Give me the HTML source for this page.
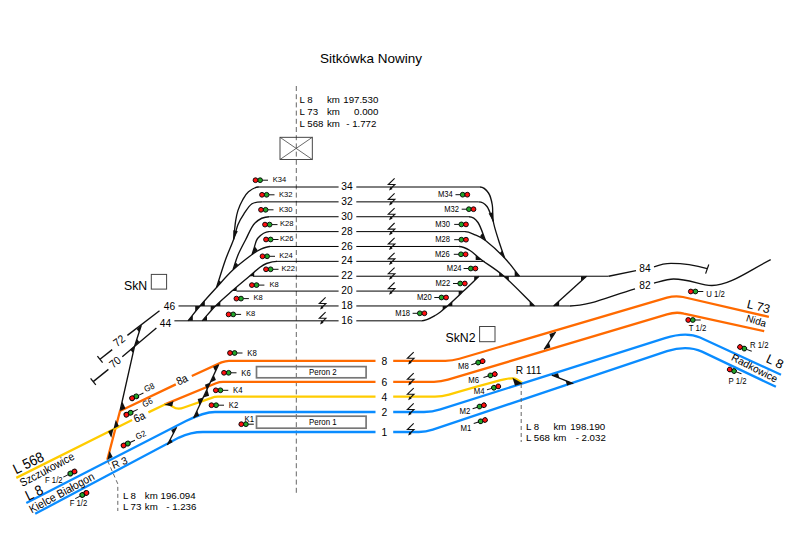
<!DOCTYPE html>
<html><head><meta charset="utf-8"><style>
html,body{margin:0;padding:0;background:#fff;}
svg{display:block;font-family:"Liberation Sans", sans-serif;}
text{fill:#000;}
</style></head><body>
<svg width="787" height="553" viewBox="0 0 787 553">
<rect width="787" height="553" fill="#fff"/>
<text x="0" y="0" font-size="13.5" text-anchor="start" transform="translate(320.0 62.8) scale(1 1.0)" >Sitkówka Nowiny</text>
<line x1="296.3" y1="86" x2="296.3" y2="493" stroke="#666" stroke-width="1" stroke-dasharray="5 3.2"/>
<text x="0" y="0" font-size="9.7" text-anchor="start" transform="translate(299.6 103.1) scale(1 1.0)" >L 8</text>
<text x="0" y="0" font-size="9.7" text-anchor="start" transform="translate(327 103.1) scale(1 1.0)" >km</text>
<text x="0" y="0" font-size="9.7" text-anchor="end" transform="translate(378.3 103.1) scale(1 1.0)" >197.530</text>
<text x="0" y="0" font-size="9.7" text-anchor="start" transform="translate(299.6 114.8) scale(1 1.0)" >L 73</text>
<text x="0" y="0" font-size="9.7" text-anchor="start" transform="translate(327 114.8) scale(1 1.0)" >km</text>
<text x="0" y="0" font-size="9.7" text-anchor="end" transform="translate(378.3 114.8) scale(1 1.0)" >0.000</text>
<text x="0" y="0" font-size="9.7" text-anchor="start" transform="translate(299.6 126.7) scale(1 1.0)" >L 568</text>
<text x="0" y="0" font-size="9.7" text-anchor="start" transform="translate(327 126.7) scale(1 1.0)" >km</text>
<text x="0" y="0" font-size="9.7" text-anchor="end" transform="translate(376.4 126.7) scale(1 1.0)" >- 1.772</text>
<rect x="280" y="137.3" width="32.3" height="22.2" fill="none" stroke="#333" stroke-width="0.9"/>
<line x1="280" y1="137.3" x2="312.3" y2="159.5" stroke="#444" stroke-width="0.8" />
<line x1="280" y1="159.5" x2="312.3" y2="137.3" stroke="#444" stroke-width="0.8" />
<line x1="257.7" y1="187.0" x2="338.6" y2="187.0" stroke="#000" stroke-width="1.0" />
<line x1="356.3" y1="187.0" x2="480" y2="187.0" stroke="#000" stroke-width="1.0" />
<text x="0" y="0" font-size="10.2" text-anchor="middle" transform="translate(347 190.1) scale(1 1.0)" >34</text>
<line x1="262.3" y1="201.87" x2="338.6" y2="201.87" stroke="#000" stroke-width="1.0" />
<line x1="356.3" y1="201.87" x2="478.5" y2="201.87" stroke="#000" stroke-width="1.0" />
<text x="0" y="0" font-size="10.2" text-anchor="middle" transform="translate(347 204.97) scale(1 1.0)" >32</text>
<line x1="269.2" y1="216.74" x2="338.6" y2="216.74" stroke="#000" stroke-width="1.0" />
<line x1="356.3" y1="216.74" x2="469" y2="216.74" stroke="#000" stroke-width="1.0" />
<text x="0" y="0" font-size="10.2" text-anchor="middle" transform="translate(347 219.84) scale(1 1.0)" >30</text>
<line x1="269.0" y1="231.61" x2="338.6" y2="231.61" stroke="#000" stroke-width="1.0" />
<line x1="356.3" y1="231.61" x2="465" y2="231.61" stroke="#000" stroke-width="1.0" />
<text x="0" y="0" font-size="10.2" text-anchor="middle" transform="translate(347 234.71) scale(1 1.0)" >28</text>
<line x1="269.5" y1="246.48" x2="338.6" y2="246.48" stroke="#000" stroke-width="1.0" />
<line x1="356.3" y1="246.48" x2="459" y2="246.48" stroke="#000" stroke-width="1.0" />
<text x="0" y="0" font-size="10.2" text-anchor="middle" transform="translate(347 249.57999999999998) scale(1 1.0)" >26</text>
<line x1="276.3" y1="261.35" x2="338.6" y2="261.35" stroke="#000" stroke-width="1.0" />
<line x1="356.3" y1="261.35" x2="484.7" y2="261.35" stroke="#000" stroke-width="1.0" />
<text x="0" y="0" font-size="10.2" text-anchor="middle" transform="translate(347 264.45000000000005) scale(1 1.0)" >24</text>
<line x1="253.0" y1="276.22" x2="338.6" y2="276.22" stroke="#000" stroke-width="1.0" />
<line x1="356.3" y1="276.22" x2="608.6" y2="276.22" stroke="#000" stroke-width="1.0" />
<text x="0" y="0" font-size="10.2" text-anchor="middle" transform="translate(347 279.32000000000005) scale(1 1.0)" >22</text>
<line x1="236.5" y1="291.09" x2="338.6" y2="291.09" stroke="#000" stroke-width="1.0" />
<line x1="356.3" y1="291.09" x2="462.7" y2="291.09" stroke="#000" stroke-width="1.0" />
<text x="0" y="0" font-size="10.2" text-anchor="middle" transform="translate(347 294.19) scale(1 1.0)" >20</text>
<line x1="178.5" y1="305.96" x2="338.6" y2="305.96" stroke="#000" stroke-width="1.0" />
<line x1="356.3" y1="305.96" x2="569.8" y2="305.96" stroke="#000" stroke-width="1.0" />
<text x="0" y="0" font-size="10.2" text-anchor="middle" transform="translate(347 309.06) scale(1 1.0)" >18</text>
<line x1="174.4" y1="320.83" x2="338.6" y2="320.83" stroke="#000" stroke-width="1.0" />
<line x1="356.3" y1="320.83" x2="421.2" y2="320.83" stroke="#000" stroke-width="1.0" />
<text x="0" y="0" font-size="10.2" text-anchor="middle" transform="translate(347 323.93) scale(1 1.0)" >16</text>
<path d="M394.6 178.4 L388.3 184.5 L394.9 184.5 L390.1 189.2" fill="none" stroke="#111" stroke-width="1.1" />
<polygon points="389.0,190.6 392.6,188.9 390.5,186.8" fill="#111"/>
<path d="M394.6 193.3 L388.3 199.4 L394.9 199.4 L390.1 204.1" fill="none" stroke="#111" stroke-width="1.1" />
<polygon points="389.0,205.5 392.6,203.8 390.5,201.7" fill="#111"/>
<path d="M394.6 208.1 L388.3 214.2 L394.9 214.2 L390.1 218.9" fill="none" stroke="#111" stroke-width="1.1" />
<polygon points="389.0,220.3 392.6,218.6 390.5,216.5" fill="#111"/>
<path d="M394.6 223.0 L388.3 229.1 L394.9 229.1 L390.1 233.8" fill="none" stroke="#111" stroke-width="1.1" />
<polygon points="389.0,235.2 392.6,233.5 390.5,231.4" fill="#111"/>
<path d="M394.6 237.9 L388.3 244.0 L394.9 244.0 L390.1 248.7" fill="none" stroke="#111" stroke-width="1.1" />
<polygon points="389.0,250.1 392.6,248.4 390.5,246.3" fill="#111"/>
<path d="M394.6 252.8 L388.3 258.9 L394.9 258.9 L390.1 263.6" fill="none" stroke="#111" stroke-width="1.1" />
<polygon points="389.0,265.0 392.6,263.2 390.5,261.2" fill="#111"/>
<path d="M394.6 267.6 L388.3 273.7 L394.9 273.7 L390.1 278.4" fill="none" stroke="#111" stroke-width="1.1" />
<polygon points="389.0,279.8 392.6,278.1 390.5,276.0" fill="#111"/>
<path d="M394.6 282.5 L388.3 288.6 L394.9 288.6 L390.1 293.3" fill="none" stroke="#111" stroke-width="1.1" />
<polygon points="389.0,294.7 392.6,293.0 390.5,290.9" fill="#111"/>
<path d="M325.6 297.4 L319.3 303.5 L325.9 303.5 L321.1 308.2" fill="none" stroke="#111" stroke-width="1.1" />
<polygon points="320.0,309.6 323.6,307.9 321.5,305.8" fill="#111"/>
<path d="M325.6 312.2 L319.3 318.3 L325.9 318.3 L321.1 323.0" fill="none" stroke="#111" stroke-width="1.1" />
<polygon points="320.0,324.4 323.6,322.7 321.5,320.6" fill="#111"/>
<path d="M258.50 187.00 C254.80 187.00 251.15 189.63 248.50 191.80 C245.85 193.97 244.37 196.87 242.60 200.00 C240.83 203.13 239.07 207.07 237.90 210.60 C236.73 214.13 236.18 217.67 235.60 221.20 C235.02 224.73 234.73 228.75 234.40 231.80 C234.07 234.85 233.87 236.93 233.60 239.50" fill="none" stroke="#111" stroke-width="1.35" />
<path d="M262.30 201.87 C258.81 201.87 255.08 201.76 252.00 203.80 C248.92 205.84 246.15 210.62 243.80 214.10 C241.45 217.58 239.60 220.47 237.90 224.70 C236.20 228.93 235.68 233.62 233.60 239.50 C231.52 245.38 228.25 252.00 225.40 260.00 C222.55 268.00 219.47 278.33 216.50 287.50" fill="none" stroke="#111" stroke-width="1.35" />
<path d="M269.20 216.74 C264.03 216.74 258.95 219.12 255.00 223.00 C251.05 226.88 248.33 234.67 245.50 240.00 C242.67 245.33 240.07 250.08 238.00 255.00 C235.93 259.92 234.73 264.67 233.10 269.50" fill="none" stroke="#111" stroke-width="1.35" />
<path d="M269.00 231.61 C264.76 231.61 260.50 235.20 258.00 238.00 C255.50 240.80 254.98 245.65 254.00 248.40 C253.02 251.15 252.73 252.47 252.10 254.50" fill="none" stroke="#111" stroke-width="1.35" />
<path d="M270.00 246.48 C266.51 246.48 262.98 248.26 260.00 249.60 C257.02 250.94 256.58 251.13 252.10 254.50 C247.62 257.87 239.03 264.30 233.10 269.80 C227.17 275.30 222.02 281.47 216.50 287.50 C210.98 293.53 204.75 300.40 200.00 305.96 C195.25 311.51 192.00 315.87 188.00 320.83" fill="none" stroke="#111" stroke-width="1.35" />
<path d="M277.00 261.35 C273.43 261.35 269.33 262.52 266.50 263.50 C263.67 264.48 262.85 265.08 260.00 267.20 C257.15 269.32 254.08 272.24 249.40 276.22 C244.72 280.20 237.55 286.13 231.90 291.09 C226.25 296.05 220.45 301.00 215.50 305.96 C210.55 310.92 206.63 315.87 202.20 320.83" fill="none" stroke="#111" stroke-width="1.35" />
<polygon points="233.6,239.5 237.8,231.2 233.3,230.2" fill="#111"/>
<polygon points="252.1,254.5 257.7,250.3 254.7,246.3" fill="#111"/>
<polygon points="233.1,269.8 238.2,265.0 235.7,262.3" fill="#111"/>
<polygon points="216.5,287.5 221.2,282.3 218.9,280.2" fill="#111"/>
<polygon points="200.0,306.0 204.8,306.0 204.8,300.3" fill="#111"/>
<polygon points="200.0,306.0 195.2,306.0 195.2,311.6" fill="#111"/>
<polygon points="188.0,320.8 192.8,320.8 192.8,314.9" fill="#111"/>
<polygon points="249.4,276.2 254.2,276.2 254.2,272.1" fill="#111"/>
<polygon points="231.9,291.1 236.7,291.1 236.7,286.9" fill="#111"/>
<polygon points="215.5,306.0 220.3,306.0 220.3,301.2" fill="#111"/>
<polygon points="215.5,306.0 210.7,306.0 210.7,310.8" fill="#111"/>
<polygon points="202.2,320.8 207.0,320.8 207.0,315.5" fill="#111"/>
<path d="M480.00 187.00 C483.47 187.00 486.45 190.00 488.50 193.00 C490.55 196.00 491.50 200.25 492.30 205.00 C493.10 209.75 492.27 215.67 493.30 221.50 C494.33 227.33 496.62 233.92 498.50 240.00 C500.38 246.08 502.57 252.00 504.60 258.00" fill="none" stroke="#111" stroke-width="1.35" />
<path d="M478.50 201.87 C481.73 201.87 484.53 203.23 487.00 206.50 C489.47 209.77 491.20 216.50 493.30 221.50" fill="none" stroke="#111" stroke-width="1.35" />
<path d="M469.00 216.74 C472.56 216.74 475.25 218.54 478.00 222.50 C480.75 226.46 483.00 234.50 485.50 240.50" fill="none" stroke="#111" stroke-width="1.35" />
<path d="M465.00 231.61 C468.50 231.61 471.58 233.32 475.00 234.80 C478.42 236.28 480.57 236.63 485.50 240.50 C490.43 244.37 498.93 252.05 504.60 258.00 C510.27 263.95 514.53 270.15 519.50 276.22" fill="none" stroke="#111" stroke-width="1.35" />
<path d="M459.00 246.48 C462.90 246.48 466.22 248.25 470.00 250.50 C473.78 252.75 476.03 255.71 481.70 260.00 C487.37 264.29 495.20 268.56 504.00 276.22 C512.80 283.88 524.33 296.05 534.50 305.96" fill="none" stroke="#111" stroke-width="1.35" />
<path d="M421.20 320.83 C426.50 320.83 431.62 317.48 436.00 315.00 C440.38 312.52 442.92 309.94 447.50 305.96 C452.08 301.97 458.25 296.05 463.50 291.09 C468.75 286.13 473.83 281.18 479.00 276.22" fill="none" stroke="#111" stroke-width="1.35" />
<polygon points="493.3,221.5 493.0,212.2 488.6,213.5" fill="#111"/>
<polygon points="485.5,240.5 480.0,236.2 482.4,233.1" fill="#111"/>
<polygon points="504.6,258.0 499.8,252.9 502.1,250.7" fill="#111"/>
<polygon points="481.7,260.0 475.7,260.0 475.7,255.5" fill="#111"/>
<polygon points="504.0,276.2 499.2,276.2 499.2,272.0" fill="#111"/>
<polygon points="504.0,276.2 508.8,276.2 508.8,280.4" fill="#111"/>
<polygon points="534.5,306.0 529.7,306.0 529.7,301.3" fill="#111"/>
<polygon points="519.5,276.2 514.7,276.2 514.7,270.4" fill="#111"/>
<polygon points="479.0,276.2 474.2,276.2 474.2,280.8" fill="#111"/>
<polygon points="463.5,291.1 458.7,291.1 458.7,295.6" fill="#111"/>
<polygon points="447.5,306.0 442.7,306.0 442.7,310.1" fill="#111"/>
<polygon points="447.5,306.0 452.3,306.0 452.3,301.8" fill="#111"/>
<path d="M608.6 276.22 L636 270.7" fill="none" stroke="#111" stroke-width="1.35" />
<path d="M654 266.8 C662 264 668 263.4 671 263.4 C685 263.4 698 266 707.2 268.7" fill="none" stroke="#111" stroke-width="1.35" />
<line x1="705.6" y1="273.6" x2="708.8" y2="264.5" stroke="#111" stroke-width="1.2" />
<text x="0" y="0" font-size="10.2" text-anchor="middle" transform="translate(645 271.9) scale(1 1.0)" >84</text>
<path d="M569.8 305.96 C590 305.96 610 296 635 288.8" fill="none" stroke="#111" stroke-width="1.35" />
<path d="M654 283.2 C662 281 668 279 673.6 279 C690 279 700 285.5 711.9 285.5 C730 285.5 750 270 770.7 259.7" fill="none" stroke="#111" stroke-width="1.35" />
<text x="0" y="0" font-size="10.2" text-anchor="middle" transform="translate(645 289.3) scale(1 1.0)" >82</text>
<line x1="553.6" y1="305.96" x2="586.5" y2="276.22" stroke="#111" stroke-width="1.35" />
<polygon points="553.6,306.0 559.1,306.0 559.1,301.0" fill="#111"/>
<polygon points="586.5,276.2 581.0,276.2 581.0,281.2" fill="#111"/>
<text x="0" y="0" font-size="10.2" text-anchor="middle" transform="translate(169.5 309.8) scale(1 1.0)" >46</text>
<text x="0" y="0" font-size="10.2" text-anchor="middle" transform="translate(165.4 326.6) scale(1 1.0)" >44</text>
<path d="M159.5 310.8 L127.4 335.4" fill="none" stroke="#111" stroke-width="1.35" />
<path d="M112.2 349.6 L100 359.3" fill="none" stroke="#111" stroke-width="1.35" />
<path d="M156.4 328 L122.3 356.7" fill="none" stroke="#111" stroke-width="1.35" />
<path d="M108.4 369.4 L93.2 381.6" fill="none" stroke="#111" stroke-width="1.35" />
<line x1="97.4" y1="356.2" x2="102.6" y2="362.6" stroke="#111" stroke-width="1.3" />
<line x1="90.6" y1="378.4" x2="95.8" y2="384.8" stroke="#111" stroke-width="1.3" />
<text x="0" y="0" font-size="10.2" text-anchor="middle" transform="translate(121.4 343.7) rotate(-38) scale(1 1.1)" >72</text>
<text x="0" y="0" font-size="10.2" text-anchor="middle" transform="translate(117.6 365.2) rotate(-40) scale(1 1.1)" >70</text>
<path d="M141.3 325.2 L134.6 346.2 L120 411" fill="none" stroke="#111" stroke-width="1.35" />
<polygon points="141.3,325.2 136.6,328.9 139.2,332.3" fill="#111"/>
<polygon points="134.8,345.8 139.4,342.0 136.9,338.9" fill="#111"/>
<polygon points="134.8,345.8 130.2,349.6 132.7,352.7" fill="#111"/>
<text x="0" y="0" font-size="12.3" text-anchor="middle" transform="translate(135.6 289.5) scale(1 1.0)" >SkN</text>
<rect x="151.3" y="274.4" width="15.3" height="14.7" fill="none" stroke="#444" stroke-width="1"/>
<text x="0" y="0" font-size="12.3" text-anchor="middle" transform="translate(460.5 342.2) scale(1 1.0)" >SkN2</text>
<rect x="479.6" y="326.5" width="15.4" height="15.2" fill="none" stroke="#444" stroke-width="1"/>
<g transform="translate(255.5 180.2) rotate(0)"><line x1="7" y1="0" x2="12.5" y2="0" stroke="#111" stroke-width="1"/><circle cx="4.6" cy="0" r="2.4" fill="#22a52a" stroke="#000" stroke-width="0.9"/><circle cx="0" cy="0" r="2.4" fill="#ff1010" stroke="#000" stroke-width="0.9"/></g>
<text x="0" y="0" font-size="7.6" text-anchor="start" transform="translate(272.7 181.89999999999998) scale(1 1.05)" >K34</text>
<g transform="translate(262 194.8) rotate(0)"><line x1="7" y1="0" x2="12.5" y2="0" stroke="#111" stroke-width="1"/><circle cx="4.6" cy="0" r="2.4" fill="#22a52a" stroke="#000" stroke-width="0.9"/><circle cx="0" cy="0" r="2.4" fill="#ff1010" stroke="#000" stroke-width="0.9"/></g>
<text x="0" y="0" font-size="7.6" text-anchor="start" transform="translate(279 196.5) scale(1 1.05)" >K32</text>
<g transform="translate(261 209.8) rotate(0)"><line x1="7" y1="0" x2="12.5" y2="0" stroke="#111" stroke-width="1"/><circle cx="4.6" cy="0" r="2.4" fill="#22a52a" stroke="#000" stroke-width="0.9"/><circle cx="0" cy="0" r="2.4" fill="#ff1010" stroke="#000" stroke-width="0.9"/></g>
<text x="0" y="0" font-size="7.6" text-anchor="start" transform="translate(279 211.5) scale(1 1.05)" >K30</text>
<g transform="translate(265 224.6) rotate(0)"><line x1="7" y1="0" x2="12.5" y2="0" stroke="#111" stroke-width="1"/><circle cx="4.6" cy="0" r="2.4" fill="#22a52a" stroke="#000" stroke-width="0.9"/><circle cx="0" cy="0" r="2.4" fill="#ff1010" stroke="#000" stroke-width="0.9"/></g>
<text x="0" y="0" font-size="7.6" text-anchor="start" transform="translate(280 226.29999999999998) scale(1 1.05)" >K28</text>
<g transform="translate(266 239.5) rotate(0)"><line x1="7" y1="0" x2="12.5" y2="0" stroke="#111" stroke-width="1"/><circle cx="4.6" cy="0" r="2.4" fill="#22a52a" stroke="#000" stroke-width="0.9"/><circle cx="0" cy="0" r="2.4" fill="#ff1010" stroke="#000" stroke-width="0.9"/></g>
<text x="0" y="0" font-size="7.6" text-anchor="start" transform="translate(280 241.2) scale(1 1.05)" >K26</text>
<g transform="translate(262.5 256.3) rotate(0)"><line x1="7" y1="0" x2="12.5" y2="0" stroke="#111" stroke-width="1"/><circle cx="4.6" cy="0" r="2.4" fill="#22a52a" stroke="#000" stroke-width="0.9"/><circle cx="0" cy="0" r="2.4" fill="#ff1010" stroke="#000" stroke-width="0.9"/></g>
<text x="0" y="0" font-size="7.6" text-anchor="start" transform="translate(279.3 258.0) scale(1 1.05)" >K24</text>
<g transform="translate(266 269.3) rotate(0)"><line x1="7" y1="0" x2="12.5" y2="0" stroke="#111" stroke-width="1"/><circle cx="4.6" cy="0" r="2.4" fill="#22a52a" stroke="#000" stroke-width="0.9"/><circle cx="0" cy="0" r="2.4" fill="#ff1010" stroke="#000" stroke-width="0.9"/></g>
<text x="0" y="0" font-size="7.6" text-anchor="start" transform="translate(281.5 271.0) scale(1 1.05)" >K22</text>
<g transform="translate(251.9 285.1) rotate(0)"><line x1="7" y1="0" x2="12.5" y2="0" stroke="#111" stroke-width="1"/><circle cx="4.6" cy="0" r="2.4" fill="#22a52a" stroke="#000" stroke-width="0.9"/><circle cx="0" cy="0" r="2.4" fill="#ff1010" stroke="#000" stroke-width="0.9"/></g>
<text x="0" y="0" font-size="7.6" text-anchor="start" transform="translate(269.5 286.8) scale(1 1.05)" >K8</text>
<g transform="translate(236.4 298.6) rotate(0)"><line x1="7" y1="0" x2="12.5" y2="0" stroke="#111" stroke-width="1"/><circle cx="4.6" cy="0" r="2.4" fill="#22a52a" stroke="#000" stroke-width="0.9"/><circle cx="0" cy="0" r="2.4" fill="#ff1010" stroke="#000" stroke-width="0.9"/></g>
<text x="0" y="0" font-size="7.6" text-anchor="start" transform="translate(253.5 300.3) scale(1 1.05)" >K8</text>
<g transform="translate(228.6 314.4) rotate(0)"><line x1="7" y1="0" x2="12.5" y2="0" stroke="#111" stroke-width="1"/><circle cx="4.6" cy="0" r="2.4" fill="#22a52a" stroke="#000" stroke-width="0.9"/><circle cx="0" cy="0" r="2.4" fill="#ff1010" stroke="#000" stroke-width="0.9"/></g>
<text x="0" y="0" font-size="7.6" text-anchor="start" transform="translate(245.9 316.09999999999997) scale(1 1.05)" >K8</text>
<g transform="translate(467.3 194.7) rotate(0)"><line x1="-11.8" y1="0" x2="-6.8" y2="0" stroke="#111" stroke-width="1"/><circle cx="-4.6" cy="0" r="2.4" fill="#22a52a" stroke="#000" stroke-width="0.9"/><circle cx="0" cy="0" r="2.4" fill="#ff1010" stroke="#000" stroke-width="0.9"/></g>
<text x="0" y="0" font-size="7.6" text-anchor="end" transform="translate(452.8 197.0) scale(1 1.07)" >M34</text>
<g transform="translate(473.5 209.2) rotate(0)"><line x1="-11.8" y1="0" x2="-6.8" y2="0" stroke="#111" stroke-width="1"/><circle cx="-4.6" cy="0" r="2.4" fill="#22a52a" stroke="#000" stroke-width="0.9"/><circle cx="0" cy="0" r="2.4" fill="#ff1010" stroke="#000" stroke-width="0.9"/></g>
<text x="0" y="0" font-size="7.6" text-anchor="end" transform="translate(459 211.5) scale(1 1.07)" >M32</text>
<g transform="translate(466 224.4) rotate(0)"><line x1="-11.8" y1="0" x2="-6.8" y2="0" stroke="#111" stroke-width="1"/><circle cx="-4.6" cy="0" r="2.4" fill="#22a52a" stroke="#000" stroke-width="0.9"/><circle cx="0" cy="0" r="2.4" fill="#ff1010" stroke="#000" stroke-width="0.9"/></g>
<text x="0" y="0" font-size="7.6" text-anchor="end" transform="translate(450 226.70000000000002) scale(1 1.07)" >M30</text>
<g transform="translate(466 239.7) rotate(0)"><line x1="-11.8" y1="0" x2="-6.8" y2="0" stroke="#111" stroke-width="1"/><circle cx="-4.6" cy="0" r="2.4" fill="#22a52a" stroke="#000" stroke-width="0.9"/><circle cx="0" cy="0" r="2.4" fill="#ff1010" stroke="#000" stroke-width="0.9"/></g>
<text x="0" y="0" font-size="7.6" text-anchor="end" transform="translate(450 242.0) scale(1 1.07)" >M28</text>
<g transform="translate(465.6 254.3) rotate(0)"><line x1="-11.8" y1="0" x2="-6.8" y2="0" stroke="#111" stroke-width="1"/><circle cx="-4.6" cy="0" r="2.4" fill="#22a52a" stroke="#000" stroke-width="0.9"/><circle cx="0" cy="0" r="2.4" fill="#ff1010" stroke="#000" stroke-width="0.9"/></g>
<text x="0" y="0" font-size="7.6" text-anchor="end" transform="translate(449.7 256.6) scale(1 1.07)" >M26</text>
<g transform="translate(475.4 268.5) rotate(0)"><line x1="-11.8" y1="0" x2="-6.8" y2="0" stroke="#111" stroke-width="1"/><circle cx="-4.6" cy="0" r="2.4" fill="#22a52a" stroke="#000" stroke-width="0.9"/><circle cx="0" cy="0" r="2.4" fill="#ff1010" stroke="#000" stroke-width="0.9"/></g>
<text x="0" y="0" font-size="7.6" text-anchor="end" transform="translate(461.6 270.8) scale(1 1.07)" >M24</text>
<g transform="translate(464.8 283.5) rotate(0)"><line x1="-11.8" y1="0" x2="-6.8" y2="0" stroke="#111" stroke-width="1"/><circle cx="-4.6" cy="0" r="2.4" fill="#22a52a" stroke="#000" stroke-width="0.9"/><circle cx="0" cy="0" r="2.4" fill="#ff1010" stroke="#000" stroke-width="0.9"/></g>
<text x="0" y="0" font-size="7.6" text-anchor="end" transform="translate(450.2 285.8) scale(1 1.07)" >M22</text>
<g transform="translate(446.1 297.5) rotate(0)"><line x1="-11.8" y1="0" x2="-6.8" y2="0" stroke="#111" stroke-width="1"/><circle cx="-4.6" cy="0" r="2.4" fill="#22a52a" stroke="#000" stroke-width="0.9"/><circle cx="0" cy="0" r="2.4" fill="#ff1010" stroke="#000" stroke-width="0.9"/></g>
<text x="0" y="0" font-size="7.6" text-anchor="end" transform="translate(431.8 299.8) scale(1 1.07)" >M20</text>
<g transform="translate(424.4 313.3) rotate(0)"><line x1="-11.8" y1="0" x2="-6.8" y2="0" stroke="#111" stroke-width="1"/><circle cx="-4.6" cy="0" r="2.4" fill="#22a52a" stroke="#000" stroke-width="0.9"/><circle cx="0" cy="0" r="2.4" fill="#ff1010" stroke="#000" stroke-width="0.9"/></g>
<text x="0" y="0" font-size="7.6" text-anchor="end" transform="translate(410.1 315.6) scale(1 1.07)" >M18</text>
<path d="M191.8 376 L221.5 362.4 Q225.6 360.8 229 360.8 L375.5 360.8 M393.2 360.8 L445.4 360.8 Q452.4 360.8 459.4 358.74 L667 297.7 Q675.2 295.3 683 297.0 L768.9 316.9" fill="none" stroke="#ff6a00" stroke-width="2.3" />
<path d="M175.8 384.4 L120 411 L107.3 459.8" fill="none" stroke="#ff6a00" stroke-width="2.3" />
<path d="M164.3 404.6 L216 383.2 Q219.4 381.8 223 381.8 L375.5 381.8 M393.2 381.8 L434 381.8 Q441 381.8 448 379.7 L667 314.4 Q675.8 311.6 684 313.6 L764.2 331.2" fill="none" stroke="#ff6a00" stroke-width="2.3" />
<text x="0" y="0" font-size="10.3" text-anchor="middle" transform="translate(183.6 383.2) rotate(-25) scale(1 1.1)" >8a</text>
<path d="M16.3 477.9 L132.1 420 M148.4 412.4 L164.3 404.8 C168 403.2 170 404.5 173 406.8 C176 409 179 409.6 184 407.5 L211 398.1 Q214.5 396.7 218 396.7 L375.5 396.7 M393.2 396.7 L435 396.7 Q442 396.7 449 394.6 C510 376.8 513 377 516 379 L522.6 383.2" fill="none" stroke="#ffcc00" stroke-width="2.3" />
<path d="M26.3 503.0 L186 421.1 Q204 412 215 412 L375.5 412.0 M393.2 412.0 L424 412.0 Q432.2 412.0 440.4 409.4 L665 338.2 C676 334.7 688 332.3 700 337.5 L781 374.8" fill="none" stroke="#0a8cff" stroke-width="2.3" />
<path d="M35.2 513.8 L179 437.6 Q191 432 203 432 L375.5 432.0 M393.2 432.0 L418.8 432.0 Q425.8 432.0 432.8 429.65 L667 351.2 C678 347.6 690 346.2 702 351.6 L775.9 386.8" fill="none" stroke="#0a8cff" stroke-width="2.3" />
<text x="0" y="0" font-size="10.3" text-anchor="middle" transform="translate(384.3 364.8) scale(1 1.0)" >8</text>
<text x="0" y="0" font-size="10.3" text-anchor="middle" transform="translate(384.3 385.8) scale(1 1.0)" >6</text>
<text x="0" y="0" font-size="10.3" text-anchor="middle" transform="translate(384.3 400.7) scale(1 1.0)" >4</text>
<text x="0" y="0" font-size="10.3" text-anchor="middle" transform="translate(384.3 416.0) scale(1 1.0)" >2</text>
<text x="0" y="0" font-size="10.3" text-anchor="middle" transform="translate(384.3 436.0) scale(1 1.0)" >1</text>
<path d="M413.7 352.2 L407.4 358.3 L414.0 358.3 L409.2 363.0" fill="none" stroke="#111" stroke-width="1.1" />
<polygon points="408.1,364.4 411.7,362.7 409.6,360.6" fill="#111"/>
<path d="M413.7 373.2 L407.4 379.3 L414.0 379.3 L409.2 384.0" fill="none" stroke="#111" stroke-width="1.1" />
<polygon points="408.1,385.4 411.7,383.7 409.6,381.6" fill="#111"/>
<path d="M413.7 388.1 L407.4 394.2 L414.0 394.2 L409.2 398.9" fill="none" stroke="#111" stroke-width="1.1" />
<polygon points="408.1,400.3 411.7,398.6 409.6,396.5" fill="#111"/>
<path d="M413.7 403.4 L407.4 409.5 L414.0 409.5 L409.2 414.2" fill="none" stroke="#111" stroke-width="1.1" />
<polygon points="408.1,415.6 411.7,413.9 409.6,411.8" fill="#111"/>
<path d="M413.7 423.4 L407.4 429.5 L414.0 429.5 L409.2 434.2" fill="none" stroke="#111" stroke-width="1.1" />
<polygon points="408.1,435.6 411.7,433.9 409.6,431.8" fill="#111"/>
<rect x="256.5" y="366.6" width="109.6" height="11.2" fill="none" stroke="#777" stroke-width="1.7"/>
<rect x="256.5" y="416.2" width="109.6" height="12" fill="none" stroke="#777" stroke-width="1.7"/>
<text x="0" y="0" font-size="7.9" text-anchor="middle" transform="translate(322.8 374.9) scale(1 1.1)" >Peron 2</text>
<text x="0" y="0" font-size="7.9" text-anchor="middle" transform="translate(322.8 424.8) scale(1 1.1)" >Peron 1</text>
<line x1="218.6" y1="364.6" x2="193.6" y2="418.0" stroke="#111" stroke-width="1.3" />
<polygon points="218.6,364.2 213.1,366.7 215.3,371.4" fill="#111"/>
<polygon points="210.4,382.4 215.9,380.1 213.8,375.0" fill="#111"/>
<polygon points="210.4,382.4 204.9,384.7 207.0,389.8" fill="#111"/>
<polygon points="203.4,397.4 209.1,395.7 207.2,389.2" fill="#111"/>
<polygon points="203.4,397.4 197.7,399.1 199.6,405.6" fill="#111"/>
<polygon points="193.6,418.0 199.2,415.8 197.1,410.5" fill="#111"/>
<polygon points="120.0,411.0 125.5,408.5 122.4,401.8" fill="#111"/>
<polygon points="113.5,428.8 118.9,426.1 115.7,419.9" fill="#111"/>
<polygon points="113.5,428.8 108.1,431.5 111.3,437.7" fill="#111"/>
<polygon points="107.3,459.8 112.7,457.1 109.5,450.9" fill="#111"/>
<polygon points="164.3,404.7 172.1,406.6 173.5,400.9" fill="#111"/>
<line x1="176.6" y1="427.3" x2="167.3" y2="445.0" stroke="#111" stroke-width="1.3" />
<polygon points="176.6,427.3 171.2,430.0 173.2,434.0" fill="#111"/>
<polygon points="167.3,445.0 172.6,442.2 170.6,438.4" fill="#111"/>
<line x1="544.2" y1="349.3" x2="555.6" y2="332.0" stroke="#111" stroke-width="1.3" />
<polygon points="544.2,349.3 550.4,347.4 548.9,342.2" fill="#111"/>
<polygon points="555.6,332.0 549.4,333.9 550.9,339.1" fill="#111"/>
<line x1="551.8" y1="375.2" x2="573.3" y2="383.6" stroke="#111" stroke-width="1.3" />
<polygon points="551.8,375.2 558.0,373.3 559.5,378.2" fill="#111"/>
<polygon points="573.3,383.6 567.1,385.6 565.5,380.6" fill="#111"/>
<polygon points="522.6,383.4 515.0,385.8 512.5,377.8" fill="#111"/>
<g transform="translate(230 353) rotate(0)"><line x1="7" y1="0" x2="12.5" y2="0" stroke="#111" stroke-width="1"/><circle cx="4.6" cy="0" r="2.4" fill="#22a52a" stroke="#000" stroke-width="0.9"/><circle cx="0" cy="0" r="2.4" fill="#ff1010" stroke="#000" stroke-width="0.9"/></g>
<text x="0" y="0" font-size="7.8" text-anchor="start" transform="translate(247.3 356) scale(1 1.1)" >K8</text>
<g transform="translate(224 372.8) rotate(0)"><line x1="7" y1="0" x2="12.5" y2="0" stroke="#111" stroke-width="1"/><circle cx="4.6" cy="0" r="2.4" fill="#22a52a" stroke="#000" stroke-width="0.9"/><circle cx="0" cy="0" r="2.4" fill="#ff1010" stroke="#000" stroke-width="0.9"/></g>
<text x="0" y="0" font-size="7.8" text-anchor="start" transform="translate(241.3 375.8) scale(1 1.1)" >K6</text>
<g transform="translate(215.8 390.3) rotate(0)"><line x1="7" y1="0" x2="12.5" y2="0" stroke="#111" stroke-width="1"/><circle cx="4.6" cy="0" r="2.4" fill="#22a52a" stroke="#000" stroke-width="0.9"/><circle cx="0" cy="0" r="2.4" fill="#ff1010" stroke="#000" stroke-width="0.9"/></g>
<text x="0" y="0" font-size="7.8" text-anchor="start" transform="translate(233 393.3) scale(1 1.1)" >K4</text>
<g transform="translate(211.5 405.2) rotate(0)"><line x1="7" y1="0" x2="12.5" y2="0" stroke="#111" stroke-width="1"/><circle cx="4.6" cy="0" r="2.4" fill="#22a52a" stroke="#000" stroke-width="0.9"/><circle cx="0" cy="0" r="2.4" fill="#ff1010" stroke="#000" stroke-width="0.9"/></g>
<text x="0" y="0" font-size="7.8" text-anchor="start" transform="translate(228.7 408.2) scale(1 1.1)" >K2</text>
<g transform="translate(241.3 424.2) rotate(0)"><line x1="7" y1="0" x2="12.5" y2="0" stroke="#111" stroke-width="1"/><circle cx="4.6" cy="0" r="2.4" fill="#22a52a" stroke="#000" stroke-width="0.9"/><circle cx="0" cy="0" r="2.4" fill="#ff1010" stroke="#000" stroke-width="0.9"/></g>
<text x="0" y="0" font-size="7.8" text-anchor="start" transform="translate(244.5 421.6) scale(1 1.1)" >K1</text>
<g transform="translate(482.6 361.2) rotate(-17)"><line x1="-11.8" y1="0" x2="-6.8" y2="0" stroke="#111" stroke-width="1"/><circle cx="-4.6" cy="0" r="2.4" fill="#22a52a" stroke="#000" stroke-width="0.9"/><circle cx="0" cy="0" r="2.4" fill="#ff1010" stroke="#000" stroke-width="0.9"/></g>
<text x="0" y="0" font-size="7.8" text-anchor="start" transform="translate(458 368.7) scale(1 1.1)" >M8</text>
<g transform="translate(494.8 374.1) rotate(-17)"><line x1="-11.8" y1="0" x2="-6.8" y2="0" stroke="#111" stroke-width="1"/><circle cx="-4.6" cy="0" r="2.4" fill="#22a52a" stroke="#000" stroke-width="0.9"/><circle cx="0" cy="0" r="2.4" fill="#ff1010" stroke="#000" stroke-width="0.9"/></g>
<text x="0" y="0" font-size="7.8" text-anchor="start" transform="translate(468.3 382.7) scale(1 1.1)" >M6</text>
<g transform="translate(498.3 386.4) rotate(-17)"><line x1="-11.8" y1="0" x2="-6.8" y2="0" stroke="#111" stroke-width="1"/><circle cx="-4.6" cy="0" r="2.4" fill="#22a52a" stroke="#000" stroke-width="0.9"/><circle cx="0" cy="0" r="2.4" fill="#ff1010" stroke="#000" stroke-width="0.9"/></g>
<text x="0" y="0" font-size="7.8" text-anchor="start" transform="translate(473.8 393.5) scale(1 1.1)" >M4</text>
<g transform="translate(483.9 405.2) rotate(-17)"><line x1="-11.8" y1="0" x2="-6.8" y2="0" stroke="#111" stroke-width="1"/><circle cx="-4.6" cy="0" r="2.4" fill="#22a52a" stroke="#000" stroke-width="0.9"/><circle cx="0" cy="0" r="2.4" fill="#ff1010" stroke="#000" stroke-width="0.9"/></g>
<text x="0" y="0" font-size="7.8" text-anchor="start" transform="translate(459.5 414.4) scale(1 1.1)" >M2</text>
<g transform="translate(485 420) rotate(-17)"><line x1="-11.8" y1="0" x2="-6.8" y2="0" stroke="#111" stroke-width="1"/><circle cx="-4.6" cy="0" r="2.4" fill="#22a52a" stroke="#000" stroke-width="0.9"/><circle cx="0" cy="0" r="2.4" fill="#ff1010" stroke="#000" stroke-width="0.9"/></g>
<text x="0" y="0" font-size="7.8" text-anchor="start" transform="translate(460.6 430.9) scale(1 1.1)" >M1</text>
<text x="0" y="0" font-size="10.2" text-anchor="middle" transform="translate(528.6 373.6) scale(1 1.0)" >R 111</text>
<line x1="521.2" y1="384" x2="521.2" y2="442" stroke="#666" stroke-width="1" stroke-dasharray="4 3"/>
<text x="0" y="0" font-size="9.7" text-anchor="start" transform="translate(526.1 429.6) scale(1 1.0)" >L 8</text>
<text x="0" y="0" font-size="9.7" text-anchor="start" transform="translate(553.5 429.6) scale(1 1.0)" >km</text>
<text x="0" y="0" font-size="9.7" text-anchor="end" transform="translate(605.2 429.6) scale(1 1.0)" >198.190</text>
<text x="0" y="0" font-size="9.7" text-anchor="start" transform="translate(526.1 441.2) scale(1 1.0)" >L 568</text>
<text x="0" y="0" font-size="9.7" text-anchor="start" transform="translate(553.5 441.2) scale(1 1.0)" >km</text>
<text x="0" y="0" font-size="9.7" text-anchor="end" transform="translate(605.8 441.2) scale(1 1.0)" >- 2.032</text>
<g transform="translate(132.1 398.3) rotate(-25)"><line x1="7" y1="0" x2="12.5" y2="0" stroke="#111" stroke-width="1"/><circle cx="4.6" cy="0" r="2.4" fill="#22a52a" stroke="#000" stroke-width="0.9"/><circle cx="0" cy="0" r="2.4" fill="#ff1010" stroke="#000" stroke-width="0.9"/></g>
<text x="0" y="0" font-size="7.8" text-anchor="middle" transform="translate(150.5 390) rotate(-25) scale(1 1.1)" >G8</text>
<g transform="translate(126.4 414.7) rotate(-25)"><line x1="7" y1="0" x2="12.5" y2="0" stroke="#111" stroke-width="1"/><circle cx="4.6" cy="0" r="2.4" fill="#22a52a" stroke="#000" stroke-width="0.9"/><circle cx="0" cy="0" r="2.4" fill="#ff1010" stroke="#000" stroke-width="0.9"/></g>
<text x="0" y="0" font-size="7.8" text-anchor="middle" transform="translate(148.6 405.2) rotate(-25) scale(1 1.1)" >G6</text>
<g transform="translate(123.6 445.5) rotate(-25)"><line x1="7" y1="0" x2="12.5" y2="0" stroke="#111" stroke-width="1"/><circle cx="4.6" cy="0" r="2.4" fill="#22a52a" stroke="#000" stroke-width="0.9"/><circle cx="0" cy="0" r="2.4" fill="#ff1010" stroke="#000" stroke-width="0.9"/></g>
<text x="0" y="0" font-size="7.8" text-anchor="middle" transform="translate(141.9 437.5) rotate(-25) scale(1 1.1)" >G2</text>
<text x="0" y="0" font-size="10.3" text-anchor="middle" transform="translate(141 420.6) rotate(-25) scale(1 1.1)" >6a</text>
<text x="0" y="0" font-size="10.3" text-anchor="middle" transform="translate(121.0 466.0) rotate(-22) scale(1 1.0)" >R 3</text>
<path d="M107.7 461 L117.8 483.9 L117.8 511" fill="none" stroke="#666" stroke-width="1" stroke-dasharray="4 3"/>
<text x="0" y="0" font-size="9.7" text-anchor="start" transform="translate(122.9 498.6) scale(1 1.0)" >L 8</text>
<text x="0" y="0" font-size="9.7" text-anchor="start" transform="translate(144.8 498.6) scale(1 1.0)" >km</text>
<text x="0" y="0" font-size="9.7" text-anchor="end" transform="translate(195.6 498.6) scale(1 1.0)" >196.094</text>
<text x="0" y="0" font-size="9.7" text-anchor="start" transform="translate(122.9 510.0) scale(1 1.0)" >L 73</text>
<text x="0" y="0" font-size="9.7" text-anchor="start" transform="translate(144.8 510.0) scale(1 1.0)" >km</text>
<text x="0" y="0" font-size="9.7" text-anchor="end" transform="translate(196.4 510.0) scale(1 1.0)" >- 1.236</text>
<text x="0" y="0" font-size="13.2" text-anchor="middle" transform="translate(30.6 467.3) rotate(-26) scale(1 1.1)" >L 568</text>
<text x="0" y="0" font-size="10.4" text-anchor="middle" transform="translate(48.8 473.0) rotate(-28) scale(1 1.1)" >Szczukowice</text>
<text x="0" y="0" font-size="13.2" text-anchor="middle" transform="translate(36.2 497.2) rotate(-26) scale(1 1.1)" >L 8</text>
<text x="0" y="0" font-size="10.5" text-anchor="middle" transform="translate(63.6 496.2) rotate(-28.5) scale(1 1.1)" >Kielce Białogon</text>
<g transform="translate(74.5 471.5) rotate(153)"><line x1="7" y1="0" x2="12.5" y2="0" stroke="#111" stroke-width="1"/><circle cx="4.6" cy="0" r="2.4" fill="#22a52a" stroke="#000" stroke-width="0.9"/><circle cx="0" cy="0" r="2.4" fill="#ff1010" stroke="#000" stroke-width="0.9"/></g>
<text x="0" y="0" font-size="7.7" text-anchor="middle" transform="translate(53.8 482.6) scale(1 1.1)" >F 1/2</text>
<g transform="translate(86.4 492.9) rotate(153)"><line x1="7" y1="0" x2="12.5" y2="0" stroke="#111" stroke-width="1"/><circle cx="4.6" cy="0" r="2.4" fill="#22a52a" stroke="#000" stroke-width="0.9"/><circle cx="0" cy="0" r="2.4" fill="#ff1010" stroke="#000" stroke-width="0.9"/></g>
<text x="0" y="0" font-size="7.7" text-anchor="middle" transform="translate(78.4 506.2) scale(1 1.1)" >F 1/2</text>
<g transform="translate(690.8 291.5) rotate(0)"><line x1="7" y1="0" x2="12.5" y2="0" stroke="#111" stroke-width="1"/><circle cx="4.6" cy="0" r="2.4" fill="#22a52a" stroke="#000" stroke-width="0.9"/><circle cx="0" cy="0" r="2.4" fill="#ff1010" stroke="#000" stroke-width="0.9"/></g>
<text x="0" y="0" font-size="7.8" text-anchor="middle" transform="translate(715.6 296.7) scale(1 1.1)" >U 1/2</text>
<g transform="translate(688.2 320) rotate(0)"><line x1="7" y1="0" x2="12.5" y2="0" stroke="#111" stroke-width="1"/><circle cx="4.6" cy="0" r="2.4" fill="#22a52a" stroke="#000" stroke-width="0.9"/><circle cx="0" cy="0" r="2.4" fill="#ff1010" stroke="#000" stroke-width="0.9"/></g>
<text x="0" y="0" font-size="7.8" text-anchor="middle" transform="translate(697.6 330.7) scale(1 1.1)" >T 1/2</text>
<text x="0" y="0" font-size="12.2" text-anchor="middle" transform="translate(757.5 310.5) rotate(14) scale(1 1.0)" >L 73</text>
<text x="0" y="0" font-size="10" text-anchor="middle" transform="translate(755.3 324) rotate(17) scale(1 1.0)" >Nida</text>
<g transform="translate(740 347) rotate(20)"><line x1="7" y1="0" x2="12.5" y2="0" stroke="#111" stroke-width="1"/><circle cx="4.6" cy="0" r="2.4" fill="#22a52a" stroke="#000" stroke-width="0.9"/><circle cx="0" cy="0" r="2.4" fill="#ff1010" stroke="#000" stroke-width="0.9"/></g>
<text x="0" y="0" font-size="7.8" text-anchor="middle" transform="translate(759.3 347.6) scale(1 1.1)" >R 1/2</text>
<g transform="translate(729.7 369.5) rotate(20)"><line x1="7" y1="0" x2="12.5" y2="0" stroke="#111" stroke-width="1"/><circle cx="4.6" cy="0" r="2.4" fill="#22a52a" stroke="#000" stroke-width="0.9"/><circle cx="0" cy="0" r="2.4" fill="#ff1010" stroke="#000" stroke-width="0.9"/></g>
<text x="0" y="0" font-size="7.8" text-anchor="middle" transform="translate(737.6 383.5) scale(1 1.1)" >P 1/2</text>
<text x="0" y="0" font-size="12.8" text-anchor="middle" transform="translate(773.2 365.5) rotate(25) scale(1 1.0)" >L 8</text>
<text x="0" y="0" font-size="10.3" text-anchor="middle" transform="translate(753.0 371.3) rotate(27) scale(1 1.0)" >Radkowice</text>
</svg></body></html>
